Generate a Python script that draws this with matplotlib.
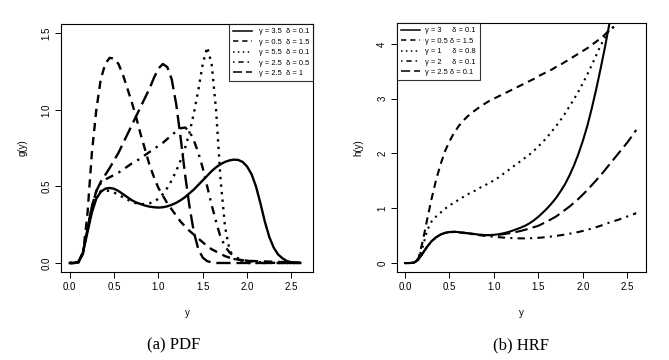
import numpy as np
import matplotlib
matplotlib.use("Agg")
import matplotlib.pyplot as plt

plt.rcParams['font.family'] = ['Liberation Sans', 'DejaVu Sans']

# ==========================================
# DATI
# ==========================================

x_pdf = np.round(np.arange(0, 2.601, 0.05), 2)   # griglia 0 .. 2.6

pdf_g35_d01 = [0, 0, 0.01, 0.07, 0.2, 0.33, 0.42, 0.465, 0.485, 0.49, 0.485,
               0.47, 0.45, 0.43, 0.41, 0.395, 0.385, 0.375, 0.368, 0.364, 0.362,
               0.364, 0.37, 0.38, 0.393, 0.41, 0.43, 0.455, 0.48, 0.51, 0.54,
               0.57, 0.6, 0.625, 0.645, 0.66, 0.67, 0.675, 0.673, 0.66, 0.63,
               0.58, 0.5, 0.39, 0.27, 0.17, 0.1, 0.055, 0.03, 0.012, 0.005,
               0.001, 0]
pdf_g05_d15 = [0, 0, 0.005, 0.06, 0.32, 0.72, 1.0, 1.2, 1.3, 1.34, 1.335,
               1.3, 1.23, 1.14, 1.05, 0.95, 0.84, 0.74, 0.64, 0.56, 0.49,
               0.44, 0.39, 0.35, 0.31, 0.27, 0.24, 0.21, 0.185, 0.16, 0.135,
               0.11, 0.09, 0.075, 0.06, 0.045, 0.035, 0.028, 0.022, 0.018, 0.015,
               0.013, 0.012, 0.011, 0.01, 0.009, 0.008, 0.007, 0.006, 0.005, 0.004,
               0.003, 0.003]
pdf_g55_d01 = [0, 0, 0.005, 0.07, 0.22, 0.36, 0.44, 0.47, 0.475, 0.47, 0.46,
               0.445, 0.43, 0.415, 0.4, 0.39, 0.385, 0.385, 0.39, 0.4, 0.42,
               0.45, 0.49, 0.54, 0.6, 0.67, 0.75, 0.85, 0.98, 1.13, 1.3,
               1.41, 1.3, 1.0, 0.55, 0.24, 0.09, 0.03, 0.01, 0.003, 0,
               0, 0, 0, 0, 0, 0, 0, 0, 0, 0,
               0, 0]
pdf_g25_d05 = [0, 0, 0.005, 0.07, 0.22, 0.37, 0.47, 0.52, 0.545, 0.56, 0.575,
               0.59, 0.61, 0.63, 0.65, 0.665, 0.685, 0.705, 0.725, 0.745, 0.765,
               0.785, 0.81, 0.835, 0.86, 0.88, 0.885, 0.86, 0.8, 0.72, 0.62,
               0.5, 0.38, 0.27, 0.17, 0.11, 0.07, 0.045, 0.03, 0.02, 0.015,
               0.01, 0.007, 0.005, 0.003, 0.002, 0.001, 0, 0, 0, 0,
               0, 0]
pdf_g25_d1 = [0, 0, 0.005, 0.07, 0.22, 0.37, 0.47, 0.53, 0.575, 0.62, 0.67,
              0.72, 0.78, 0.84, 0.9, 0.96, 1.02, 1.08, 1.14, 1.21, 1.27,
              1.3, 1.28, 1.2, 1.04, 0.82, 0.58, 0.37, 0.2, 0.09, 0.035,
              0.012, 0.004, 0, 0, 0, 0, 0, 0, 0, 0,
              0, 0, 0, 0, 0, 0, 0, 0, 0, 0,
              0, 0]

x_hrf = np.round(np.arange(0, 2.601, 0.05), 2)

hrf_g3_d01 = [0, 0, 0.005, 0.06, 0.18, 0.3, 0.4, 0.47, 0.52, 0.55, 0.565,
              0.57, 0.565, 0.555, 0.545, 0.535, 0.525, 0.515, 0.51, 0.51, 0.515,
              0.525, 0.54, 0.56, 0.585, 0.615, 0.645, 0.68, 0.725, 0.78, 0.845,
              0.92, 1.0, 1.09, 1.19, 1.31, 1.44, 1.6, 1.78, 1.99, 2.23,
              2.5, 2.82, 3.17, 3.55, 3.95, 4.38, 4.85]
hrf_g05_d15 = [0, 0, 0.005, 0.08, 0.4, 0.8, 1.18, 1.52, 1.8, 2.04, 2.22,
               2.37, 2.49, 2.59, 2.67, 2.74, 2.8, 2.86, 2.91, 2.96, 3.0,
               3.04, 3.08, 3.12, 3.16, 3.2, 3.24, 3.28, 3.32, 3.36, 3.41,
               3.45, 3.49, 3.53, 3.58, 3.62, 3.67, 3.72, 3.77, 3.82, 3.87,
               3.92, 3.98, 4.04, 4.1, 4.17, 4.26, 4.31]
hrf_g1_d08 = [0, 0, 0.005, 0.08, 0.3, 0.6, 0.76, 0.85, 0.92, 0.99, 1.05,
              1.1, 1.15, 1.2, 1.25, 1.29, 1.33, 1.38, 1.42, 1.46, 1.51,
              1.56, 1.62, 1.68, 1.74, 1.8, 1.86, 1.92, 1.98, 2.05, 2.13,
              2.21, 2.3, 2.4, 2.5, 2.61, 2.73, 2.86, 2.99, 3.13, 3.28,
              3.44, 3.61, 3.79, 3.97, 4.12, 4.26, 4.31]
hrf_g2_d01 = [0, 0, 0.005, 0.06, 0.18, 0.3, 0.4, 0.47, 0.52, 0.55, 0.565,
              0.565, 0.56, 0.55, 0.54, 0.528, 0.515, 0.505, 0.495, 0.487, 0.48,
              0.472, 0.465, 0.46, 0.455, 0.452, 0.45, 0.45, 0.452, 0.455, 0.46,
              0.467, 0.475, 0.485, 0.495, 0.507, 0.52, 0.535, 0.55, 0.567, 0.585,
              0.607, 0.63, 0.655, 0.68, 0.71, 0.74, 0.765, 0.79, 0.82, 0.85,
              0.88, 0.91]
hrf_g25_d01 = [0, 0, 0.005, 0.06, 0.18, 0.3, 0.4, 0.47, 0.52, 0.55, 0.565,
               0.57, 0.565, 0.555, 0.545, 0.535, 0.525, 0.515, 0.51, 0.508, 0.51,
               0.515, 0.525, 0.537, 0.55, 0.567, 0.585, 0.607, 0.63, 0.655, 0.68,
               0.72, 0.76, 0.805, 0.85, 0.91, 0.97, 1.03, 1.1, 1.17, 1.25,
               1.33, 1.42, 1.51, 1.6, 1.7, 1.8, 1.9, 2.0, 2.1, 2.2,
               2.31, 2.43]

PDF_LABELS = ["γ = 3.5  δ = 0.1", "γ = 0.5  δ = 1.5", "γ = 5.5  δ = 0.1",
              "γ = 2.5  δ = 0.5", "γ = 2.5  δ = 1"]
HRF_LABELS = ["γ = 3     δ = 0.1", "γ = 0.5 δ = 1.5", "γ = 1     δ = 0.8",
              "γ = 2     δ = 0.1", "γ = 2.5 δ = 0.1"]

# stili di linea tipo R: solid, dashed, dotted, dotdash, longdash
STILI = ['-', (0, (3.5, 2.5)), (0, (1, 2.2)), (0, (1, 2.5, 3.5, 2.5)), (0, (6, 2.5))]


def pannello(ax, x, serie, labels, lw, xlim, ylim, yticks, ylabel, loc, tpad):
    for y, ls, lab in zip(serie, STILI, labels):
        ax.plot(x[:len(y)], y, color='black', linestyle=ls, linewidth=lw,
                label=lab)
    ax.set_xlim(*xlim)
    ax.set_ylim(*ylim)
    ax.set_xticks([0, 0.5, 1.0, 1.5, 2.0, 2.5])
    ax.set_xticklabels(['0.0', '0.5', '1.0', '1.5', '2.0', '2.5'])
    ax.set_yticks(yticks)
    ax.tick_params(direction='out', length=4, width=0.7, labelsize=7,
                   pad=3)
    for lab in ax.get_yticklabels():
        lab.set_rotation(90)
        lab.set_va('center')
    for sp in ax.spines.values():
        sp.set_linewidth(0.8)
    ax.set_xlabel('y', fontsize=7, labelpad=12)
    ax.set_ylabel(ylabel, fontsize=7, labelpad=10)
    leg = ax.legend(loc=loc, fontsize=5.4, frameon=True, fancybox=False,
                    borderaxespad=0, handlelength=2.5, handletextpad=tpad,
                    labelspacing=0.42, borderpad=0.55)
    leg.get_frame().set_edgecolor('black')
    leg.get_frame().set_linewidth(0.8)
    for line in leg.get_lines():
        line.set_linewidth(1.1)


fig = plt.figure(figsize=(6.69, 3.6), dpi=100)

ax1 = fig.add_axes([0.0912, 0.2444, 0.3767, 0.6889])
pannello(ax1, x_pdf,
         [pdf_g35_d01, pdf_g05_d15, pdf_g55_d01, pdf_g25_d05, pdf_g25_d1],
         PDF_LABELS, 1.7, (-0.098, 2.743), (-0.059, 1.561),
         [0.0, 0.5, 1.0, 1.5], 'g(y)', 'upper right', 0.9)
ax1.set_yticklabels(['0.0', '0.5', '1.0', '1.5'])

ax2 = fig.add_axes([0.5934, 0.2444, 0.3722, 0.6917])
pannello(ax2, x_hrf,
         [hrf_g3_d01, hrf_g05_d15, hrf_g1_d08, hrf_g2_d01, hrf_g25_d01],
         HRF_LABELS, 1.5, (-0.09, 2.71), (-0.164, 4.38),
         [0, 1, 2, 3, 4], 'h(y)', 'upper left', 0.7)

fig.text(0.259, 0.04, '(a) PDF', ha='center', va='center',
         fontsize=12, family='Liberation Serif')
fig.text(0.779, 0.04, '(b) HRF', ha='center', va='center',
         fontsize=12, family='Liberation Serif')

fig.savefig('out.png', dpi=100)
